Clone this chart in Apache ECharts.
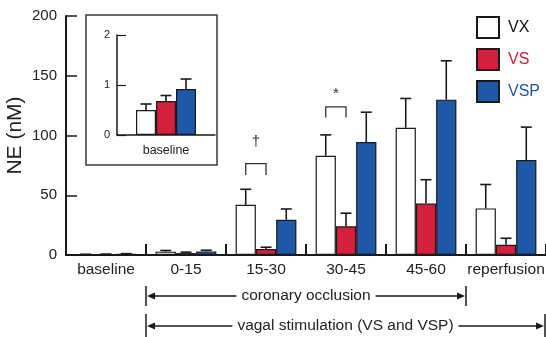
<!DOCTYPE html>
<html>
<head>
<meta charset="utf-8">
<script src="https://cdn.jsdelivr.net/npm/echarts@6/dist/echarts.min.js"></script>
<style>
  html, body { margin: 0; padding: 0; background: #fff; }
  #chart { width: 546px; height: 337px; }
</style>
</head>
<body>
<div id="chart"></div>
<script>
// NE concentration by period, three groups (mean and upper error limit)
const categories = ['baseline', '0-15', '15-30', '30-45', '45-60', 'reperfusion'];
const vxMean   = [0.5, 2.8, 42, 83, 106.5, 39];
const vxUpper  = [0.62, 3.8, 55, 100.5, 131, 59];
const vsMean   = [0.68, 1.6, 5, 24, 43, 8.5];
const vsUpper  = [0.79, 2.4, 6.5, 35, 63, 14];
const vspMean  = [0.92, 3.0, 29.5, 94.5, 130, 79.5];
const vspUpper = [1.12, 4.0, 38.5, 119.5, 162.5, 107];

// inset: the baseline period on its own scale
const insetCategories = ['baseline'];
const insetVx  = [vxMean[0]],  insetVxUpper  = [vxUpper[0]];
const insetVs  = [vsMean[0]],  insetVsUpper  = [vsUpper[0]];
const insetVsp = [vspMean[0]], insetVspUpper = [vspUpper[0]];

const yMain = { min: 0, max: 200, interval: 50 };
const yInset = { min: 0, max: 2, interval: 1 };

// significance annotations: category, symbol, symbol height, bracket top/bottom (NE units)
const sigMarks = [
  { cat: '15-30', sym: '\u2020', at: 95,  top: 76.5, bottom: 67 },
  { cat: '30-45', sym: '*',      at: 135, top: 124,  bottom: 115 }
];

const FONT = '"Liberation Sans", Arial, Helvetica, sans-serif';
const INK = '#1a1a1a';
const RED = '#d3203c';
const BLUE = '#1f58a6';
const GAP = 0.24;

const chart = echarts.init(document.getElementById('chart'));

function mainBarW(api) { return api.size([1, 0])[0] * (1 - GAP) / 3; }
function insetBarW() { return 20; }

function errorSeries(means, uppers, k, axisIdx, barW) {
  return {
    type: 'custom',
    xAxisIndex: axisIdx, yAxisIndex: axisIdx,
    z: 4, silent: true,
    encode: { x: 0, y: [1, 2] },
    data: means.map((m, i) => [i, m, uppers[i]]),
    renderItem(params, api) {
      const base = api.coord([api.value(0), api.value(1)]);
      const top = api.coord([api.value(0), api.value(2)]);
      const x = base[0] + (k - 1) * barW(api);
      return {
        type: 'group',
        children: [
          { type: 'line', shape: { x1: x, y1: base[1], x2: x, y2: top[1] }, style: { stroke: INK, lineWidth: 1.6 } },
          { type: 'line', shape: { x1: x - 5.5, y1: top[1], x2: x + 5.5, y2: top[1] }, style: { stroke: INK, lineWidth: 1.6 } }
        ]
      };
    }
  };
}

function bar(name, data, color, axisIdx, extra) {
  return Object.assign({
    name, type: 'bar', data,
    xAxisIndex: axisIdx, yAxisIndex: axisIdx,
    barGap: '0%',
    itemStyle: { color, borderColor: INK, borderWidth: 1.2 },
    silent: true
  }, extra);
}

const axisLineStyle = { color: INK, width: 2 };

chart.setOption({
  animation: false,
  textStyle: { fontFamily: FONT },
  legend: {
    orient: 'vertical', left: 476, top: 16, padding: 0,
    itemWidth: 22, itemHeight: 21, itemGap: 9,
    icon: 'rect', selectedMode: false,
    itemStyle: { borderColor: INK, borderWidth: 2 },
    textStyle: { fontSize: 16, fontFamily: FONT, padding: [0, 0, 0, 4] },
    data: [
      { name: 'VX', textStyle: { color: '#111' } },
      { name: 'VS', textStyle: { color: RED } },
      { name: 'VSP', textStyle: { color: BLUE } }
    ]
  },
  grid: [
    { left: 66, top: 16, width: 480, height: 239, outerBoundsMode: 'none', containLabel: false },
    { left: 117, top: 35, width: 98, height: 100, outerBoundsMode: 'none', containLabel: false }
  ],
  xAxis: [
    {
      type: 'category', data: categories, gridIndex: 0,
      axisLine: { lineStyle: axisLineStyle },
      axisTick: { show: true, inside: true, length: 11, lineStyle: { color: INK, width: 2 } },
      axisLabel: { fontSize: 15.5, color: '#222', margin: 7, interval: 0, hideOverlap: false }
    },
    {
      type: 'category', data: insetCategories, gridIndex: 1,
      axisLine: { lineStyle: { color: INK, width: 1.5 } },
      axisTick: { show: false },
      axisLabel: { fontSize: 12.5, color: '#222', margin: 9, interval: 0 }
    }
  ],
  yAxis: [
    {
      type: 'value', gridIndex: 0, min: yMain.min, max: yMain.max, interval: yMain.interval,
      name: 'NE (nM)', nameLocation: 'middle', nameGap: 40, nameRotate: 90, nameMoveOverlap: false,
      nameTextStyle: { fontSize: 21, color: '#222' },
      axisLine: { show: true, lineStyle: axisLineStyle },
      axisTick: { show: true, inside: true, length: 11, lineStyle: { color: INK, width: 1.5 } },
      axisLabel: { fontSize: 15, color: '#222', margin: 9 },
      splitLine: { show: false }
    },
    {
      type: 'value', gridIndex: 1, min: yInset.min, max: yInset.max, interval: yInset.interval,
      axisLine: { show: true, lineStyle: { color: INK, width: 1.5 } },
      axisTick: { show: true, inside: true, length: 9, lineStyle: { color: INK, width: 1.2 } },
      axisLabel: { fontSize: 11, color: '#222', margin: 7 },
      splitLine: { show: false }
    }
  ],
  series: [
    bar('VX', vxMean, '#ffffff', 0, { barCategoryGap: (GAP * 100) + '%' }),
    bar('VS', vsMean, RED, 0),
    bar('VSP', vspMean, BLUE, 0),
    errorSeries(vxMean, vxUpper, 0, 0, mainBarW),
    errorSeries(vsMean, vsUpper, 1, 0, mainBarW),
    errorSeries(vspMean, vspUpper, 2, 0, mainBarW),
    bar('VX', insetVx, '#ffffff', 1, { barWidth: 20 }),
    bar('VS', insetVs, RED, 1, { barWidth: 20 }),
    bar('VSP', insetVsp, BLUE, 1, { barWidth: 20 }),
    errorSeries(insetVx, insetVxUpper, 0, 1, insetBarW),
    errorSeries(insetVs, insetVsUpper, 1, 1, insetBarW),
    errorSeries(insetVsp, insetVspUpper, 2, 1, insetBarW)
  ]
});

// ---- annotations placed from the axes ----
const measureCtx = document.createElement('canvas').getContext('2d');
function textWidth(str, size) {
  measureCtx.font = size + 'px ' + FONT;
  return measureCtx.measureText(str).width;
}
const xPix = (c) => chart.convertToPixel({ xAxisIndex: 0 }, c);
const yPix = (v) => chart.convertToPixel({ yAxisIndex: 0 }, v);
const band = xPix(categories[1]) - xPix(categories[0]);
const barW = band * (1 - GAP) / 3;
const leftEdge = (i) => xPix(categories[i]) - band / 2;
const rightEdge = (i) => xPix(categories[i]) + band / 2;

const graphics = [];
const lineStyle = { stroke: INK, lineWidth: 1.5 };

// inset frame
graphics.push({
  type: 'rect', z: -1, silent: true,
  shape: { x: 86, y: 15, width: 131, height: 150 },
  style: { fill: '#fff', stroke: '#3a3a3a', lineWidth: 1.5 }
});

// significance brackets
sigMarks.forEach((m) => {
  const c = xPix(m.cat);
  const x1 = c - barW, x2 = c;
  const yt = yPix(m.top), yb = yPix(m.bottom);
  graphics.push({
    type: 'polyline', silent: true,
    shape: { points: [[x1, yb], [x1, yt], [x2, yt], [x2, yb]] },
    style: { stroke: '#333', lineWidth: 1.3, fill: null }
  });
  graphics.push({
    type: 'text', silent: true,
    x: (x1 + x2) / 2, y: yPix(m.at),
    style: { text: m.sym, font: '15px ' + FONT, fill: '#333', align: 'center', verticalAlign: 'middle' }
  });
});

// period spans below the axis
function span(xa, xb, y, label, barTop, barBottom) {
  const size = 15.5;
  const mid = (xa + xb) / 2;
  const w = textWidth(label, size);
  const gap = 5;
  const head = 8, hw = 3.5;
  graphics.push({ type: 'line', silent: true, shape: { x1: xa, y1: barTop, x2: xa, y2: barBottom }, style: lineStyle });
  graphics.push({ type: 'line', silent: true, shape: { x1: xb, y1: barTop, x2: xb, y2: barBottom }, style: lineStyle });
  graphics.push({ type: 'line', silent: true, shape: { x1: xa + head, y1: y, x2: mid - w / 2 - gap, y2: y }, style: lineStyle });
  graphics.push({ type: 'line', silent: true, shape: { x1: mid + w / 2 + gap, y1: y, x2: xb - head, y2: y }, style: lineStyle });
  graphics.push({ type: 'polygon', silent: true, shape: { points: [[xa + 1, y], [xa + head + 1, y - hw], [xa + head + 1, y + hw]] }, style: { fill: INK } });
  graphics.push({ type: 'polygon', silent: true, shape: { points: [[xb - 1, y], [xb - head - 1, y - hw], [xb - head - 1, y + hw]] }, style: { fill: INK } });
  graphics.push({
    type: 'text', silent: true, x: mid, y: y,
    style: { text: label, font: size + 'px ' + FONT, fill: '#222', align: 'center', verticalAlign: 'middle' }
  });
}
span(leftEdge(1), rightEdge(4), 296, 'coronary occlusion', 286, 306);
span(leftEdge(1), Math.min(rightEdge(5), 545), 326, 'vagal stimulation (VS and VSP)', 314, 337);

chart.setOption({ graphic: graphics });
</script>
</body>
</html>
